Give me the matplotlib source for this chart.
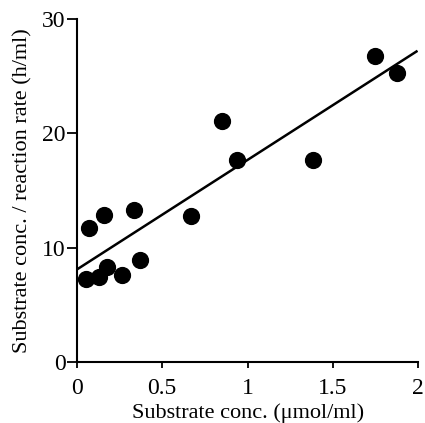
import numpy as np
import matplotlib.pyplot as plt

# wartości
substrat = [0.055, 0.072, 0.131, 0.160, 0.176, 0.264, 0.332, 0.369,
            0.669, 0.852, 0.940, 1.386, 1.744, 1.875]
stosunek = [7.3, 11.75, 7.4, 12.85, 8.35, 7.65, 13.3, 8.9,
            12.8, 21.1, 17.65, 17.7, 26.8, 25.3]
prosta_x = [0.0, 1.99]
wyraz_wolny = 8.1
nachylenie = 9.58

plt.rcParams['font.family'] = ['Liberation Serif', 'DejaVu Serif']

fig = plt.figure(figsize=(4.25, 4.23), dpi=100)
ax = fig.add_axes([0.181, 0.144, 0.803, 0.811])

ax.scatter(substrat, stosunek, s=130, color='black', zorder=3)
px = np.array(prosta_x)
ax.plot(px, wyraz_wolny + nachylenie * px, color='black', lw=1.8)

ax.set_xlim(0, 2)
ax.set_ylim(0, 30)
ax.set_xticks([0, 0.5, 1, 1.5, 2])
ax.set_xticklabels(['0', '0.5', '1', '1.5', '2'])
ax.set_yticks([0, 10, 20, 30])

for s in ['top', 'right']:
    ax.spines[s].set_visible(False)
for s in ['left', 'bottom']:
    ax.spines[s].set_linewidth(1.5)

ax.tick_params(axis='y', direction='out', length=7, width=1.3, labelsize=17, pad=1)
ax.tick_params(axis='x', direction='out', length=4.5, width=1.3, labelsize=17, pad=7)

ax.set_xlabel("Substrate conc. (\u03bcmol/ml)", fontsize=16, labelpad=3)
ax.set_ylabel("Substrate conc. / reaction rate (h/ml)", fontsize=16, labelpad=7)

plt.savefig("out.png", dpi=100)
plt.close()
